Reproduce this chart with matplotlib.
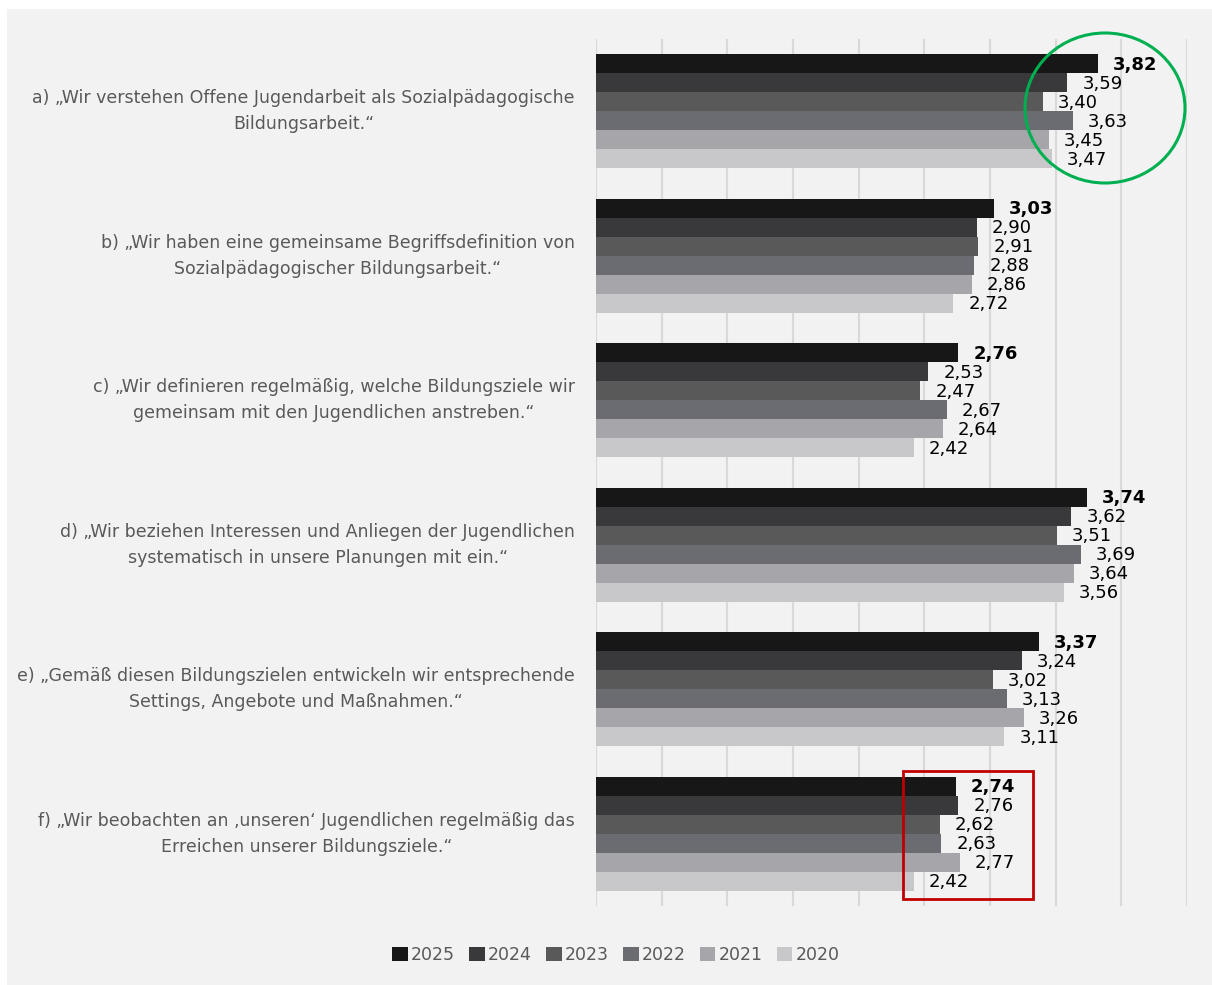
import numpy as np
import matplotlib.pyplot as plt
from matplotlib.patches import Ellipse, Rectangle

# data
years = ["2025", "2024", "2023", "2022", "2021", "2020"]
colors = ["#171717", "#39393b", "#595959", "#6b6c71", "#a6a5a9", "#c8c8ca"]
categories = [
    "a) \u201eWir verstehen Offene Jugendarbeit als Sozialpädagogische\nBildungsarbeit.\u201c",
    "b) \u201eWir haben eine gemeinsame Begriffsdefinition von\nSozialpädagogischer Bildungsarbeit.\u201c",
    "c) \u201eWir definieren regelmäßig, welche Bildungsziele wir\ngemeinsam mit den Jugendlichen anstreben.\u201c",
    "d) \u201eWir beziehen Interessen und Anliegen der Jugendlichen\nsystematisch in unsere Planungen mit ein.\u201c",
    "e) \u201eGemäß diesen Bildungszielen entwickeln wir entsprechende\nSettings, Angebote und Maßnahmen.\u201c",
    "f) \u201eWir beobachten an \u201aunseren\u2018 Jugendlichen regelmäßig das\nErreichen unserer Bildungsziele.\u201c",
]
v2025 = [3.82, 3.03, 2.76, 3.74, 3.37, 2.74]
v2024 = [3.59, 2.90, 2.53, 3.62, 3.24, 2.76]
v2023 = [3.40, 2.91, 2.47, 3.51, 3.02, 2.62]
v2022 = [3.63, 2.88, 2.67, 3.69, 3.13, 2.63]
v2021 = [3.45, 2.86, 2.64, 3.64, 3.26, 2.77]
v2020 = [3.47, 2.72, 2.42, 3.56, 3.11, 2.42]
series = [v2025, v2024, v2023, v2022, v2021, v2020]

W, H = 1212, 985
fig = plt.figure(figsize=(W / 100, H / 100), dpi=100, facecolor="white")
# grey panel behind the chart
fig.patches.append(Rectangle((7 / W, 0), 1 - 7 / W, 1 - 9 / H, transform=fig.transFigure,
                             facecolor="#f2f2f2", edgecolor="none", zorder=-1))

ax = fig.add_axes([596 / W, 1 - 906 / H, (1187 - 596) / W, (906 - 39) / H])
ax.set_facecolor("none")

bh = 0.132
y = np.arange(len(categories))
for j, (yr, vals) in enumerate(zip(years, series)):
    pos = y + (j - 2.5) * bh
    ax.barh(pos, vals, height=bh, color=colors[j], label=yr, zorder=2)
    for p, v in zip(pos, vals):
        ax.annotate(f"{v:.2f}".replace(".", ","), (v, p), xytext=(15, -1),
                    textcoords="offset pixels", va="center", ha="left",
                    fontsize=13, color="black",
                    fontweight="bold" if j == 0 else "normal", zorder=4)

ax.set_xlim(0, 4.5)
ax.set_ylim(len(categories) - 0.5, -0.5)
ax.set_xticks(np.arange(0, 4.51, 0.5))
ax.set_xticklabels([])
ax.set_yticks([])
ax.tick_params(length=0)
ax.grid(axis="x", color="#d9d9d9", lw=1.5, zorder=0)
for s in ax.spines.values():
    s.set_visible(False)

for i, cat in enumerate(categories):
    ax.annotate(cat, (0, i), xytext=(-21, 0), textcoords="offset pixels",
                ha="right", va="center", multialignment="center",
                fontsize=12.5, color="#595959", linespacing=1.6)

# highlight marks
ell = Ellipse((1105, 985 - 108), 160, 150, transform=None, fill=False,
              edgecolor="#00b050", lw=2.2, zorder=5)
ell.set_clip_on(False)
ax.add_patch(ell)
box = Rectangle((903, 985 - 899), 130, 128, transform=None, fill=False,
                edgecolor="#c00000", lw=2, zorder=5)
box.set_clip_on(False)
ax.add_patch(box)

leg = fig.legend(loc="center", bbox_to_anchor=(616 / W, 1 - 955 / H), ncol=6,
                 frameon=False, fontsize=12.5, handlelength=0.9, handleheight=0.9,
                 handletextpad=0.2, columnspacing=0.8, labelcolor="#595959")

fig.savefig("out.png", dpi=100, facecolor=fig.get_facecolor())
